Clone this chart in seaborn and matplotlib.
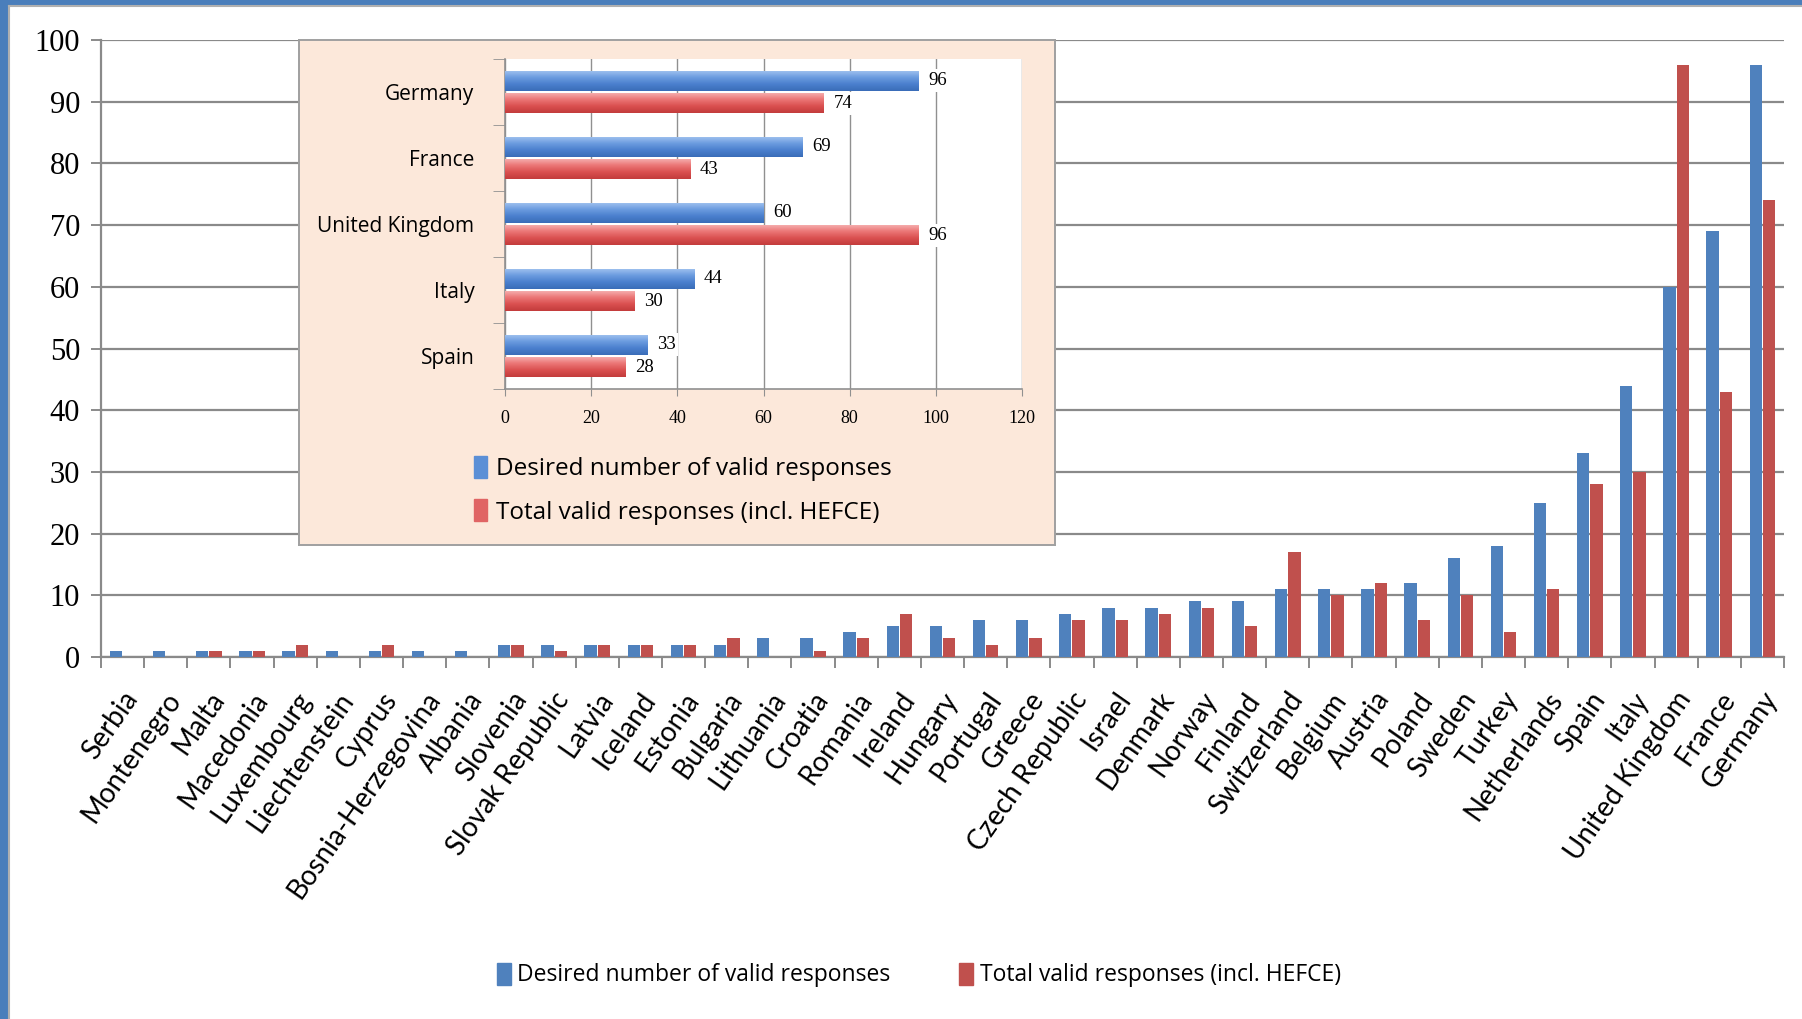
import numpy as np
import pandas as pd
import matplotlib
matplotlib.use("Agg")
import matplotlib.pyplot as plt
import matplotlib.patches as mpatches
import matplotlib.transforms as mtransforms
from matplotlib.colors import LinearSegmentedColormap
import seaborn as sns

# data
countries = ["Serbia", "Montenegro", "Malta", "Macedonia", "Luxembourg", "Liechtenstein",
             "Cyprus", "Bosnia-Herzegovina", "Albania", "Slovenia", "Slovak Republic",
             "Latvia", "Iceland", "Estonia", "Bulgaria", "Lithuania", "Croatia", "Romania",
             "Ireland", "Hungary", "Portugal", "Greece", "Czech Republic", "Israel",
             "Denmark", "Norway", "Finland", "Switzerland", "Belgium", "Austria", "Poland",
             "Sweden", "Turkey", "Netherlands", "Spain", "Italy", "United Kingdom",
             "France", "Germany"]
desired = [1, 1, 1, 1, 1, 1, 1, 1, 1, 2, 2, 2, 2, 2, 2, 3, 3, 4, 5, 5, 6, 6, 7, 8,
           8, 9, 9, 11, 11, 11, 12, 16, 18, 25, 33, 44, 60, 69, 96]
total = [0, 0, 1, 1, 2, 0, 2, 0, 0, 2, 1, 2, 2, 2, 3, 0, 1, 3, 7, 3, 2, 3, 6, 6,
         7, 8, 5, 17, 10, 12, 6, 10, 4, 11, 28, 30, 96, 43, 74]

top5 = ["Germany", "France", "United Kingdom", "Italy", "Spain"]
top5_desired = [96, 69, 60, 44, 33]
top5_total = [74, 43, 96, 30, 28]

series = ["Desired number of valid responses", "Total valid responses (incl. HEFCE)"]

df = pd.DataFrame({
    "Country": countries * 2,
    "Responses": desired + total,
    "Series": [series[0]] * len(countries) + [series[1]] * len(countries),
})
df_top = pd.DataFrame({
    "Country": top5 * 2,
    "Responses": top5_desired + top5_total,
    "Series": [series[0]] * 5 + [series[1]] * 5,
})

blue, red = "#4F81BD", "#C0504D"
grid_c = "#8A8A8A"

fig = plt.figure(figsize=(18.02, 10.19), dpi=100)
fig.patch.set_facecolor("white")

# frame of the slide
fig.patches.append(mpatches.Rectangle((0, 0), 7 / 1802, 1, transform=fig.transFigure,
                                      color="#4A7EBB", zorder=0))
fig.patches.append(mpatches.Rectangle((0, 1 - 4 / 1019), 1, 4 / 1019, transform=fig.transFigure,
                                      color="#4A7EBB", zorder=0))
fig.lines.append(plt.Line2D([9 / 1802, 9 / 1802], [0, 1 - 6 / 1019], transform=fig.transFigure,
                            color="#B0B0B0", lw=1.5))
fig.lines.append(plt.Line2D([9 / 1802, 1], [1 - 6 / 1019, 1 - 6 / 1019], transform=fig.transFigure,
                            color="#B0B0B0", lw=1.5))

# main chart
ax = fig.add_axes([101 / 1802, 1 - 657 / 1019, 1683 / 1802, 617 / 1019])
sns.barplot(data=df, x="Country", y="Responses", hue="Series", order=countries,
            palette=[blue, red], saturation=1, width=0.62, gap=0.08, legend=False,
            ax=ax, zorder=3)
ax.set_xlim(-0.5, len(countries) - 0.5)
ax.set_ylim(0, 100)
ax.set_yticks(range(0, 101, 10))
ax.set_xlabel("")
ax.set_ylabel("")
ax.yaxis.grid(True, color=grid_c, lw=1.6, zorder=0)
ax.set_axisbelow(True)
for s in ["top", "right"]:
    ax.spines[s].set_visible(False)
for s in ["left", "bottom"]:
    ax.spines[s].set_color(grid_c)
    ax.spines[s].set_linewidth(1.6)
ax.tick_params(axis="y", length=7, width=1.4, color=grid_c, pad=8)
for t in ax.get_yticklabels():
    t.set_fontfamily("Liberation Serif")
    t.set_fontsize(22)
ax.set_xticks(range(len(countries)))
ax.set_xticks(np.arange(-0.5, len(countries), 1), minor=True)
ax.tick_params(axis="x", which="major", length=0, pad=27)
ax.tick_params(axis="x", which="minor", length=8, width=1.4, color=grid_c)
ax.set_xticklabels(countries, rotation=55, ha="right", va="center", rotation_mode="anchor",
                   fontsize=20, fontfamily="Lato")
shift = mtransforms.ScaledTranslation(10 / 100, 0, fig.dpi_scale_trans)
for t in ax.get_xticklabels():
    t.set_transform(t.get_transform() + shift)

handles = [mpatches.Patch(color=blue), mpatches.Patch(color=red)]
fig.legend(handles, series, loc="center", bbox_to_anchor=(0.51, 1 - 975 / 1019), ncol=2,
           frameon=False, prop={"family": "Open Sans", "size": 16.5},
           handlelength=0.6, handleheight=1.1, handletextpad=0.3, columnspacing=3.0)

# inset panel
bg = fig.add_axes([299 / 1802, 1 - 545 / 1019, 756 / 1802, 505 / 1019], zorder=2)
bg.set_facecolor("#FCE8DA")
bg.set_xticks([])
bg.set_yticks([])
for s in bg.spines.values():
    s.set_color("#A0A0A0")
    s.set_linewidth(1.4)

ax2 = fig.add_axes([505 / 1802, 1 - 389 / 1019, 517 / 1802, 330 / 1019], zorder=3)
sns.barplot(data=df_top, y="Country", x="Responses", hue="Series", order=top5,
            palette=[blue, red], saturation=1, width=0.68, gap=0.1, legend=False,
            ax=ax2, orient="h")
ax2.set_xlim(0, 120)
ax2.set_ylim(len(top5) - 0.5, -0.5)
ax2.set_xticks(range(0, 121, 20))
ax2.set_xlabel("")
ax2.set_ylabel("")
ax2.set_facecolor("white")
ax2.xaxis.grid(True, color="#909090", lw=1.0)
ax2.set_axisbelow(True)
for s in ["top", "right"]:
    ax2.spines[s].set_visible(False)
for s in ["left", "bottom"]:
    ax2.spines[s].set_color("#909090")
    ax2.spines[s].set_linewidth(1.2)
ax2.tick_params(axis="x", length=5, color="#909090", pad=10)
for t in ax2.get_xticklabels():
    t.set_fontfamily("Liberation Serif")
    t.set_fontsize(13)
ax2.set_yticks(np.arange(-0.5, len(top5), 1), minor=True)
ax2.tick_params(axis="y", which="major", length=0, pad=22)
ax2.tick_params(axis="y", which="minor", length=9, color="#909090")
ax2.set_yticklabels(top5, fontsize=15, fontfamily="Open Sans")

# glossy gradient on inset bars (first five patches are the blue series)
cmaps = [
    LinearSegmentedColormap.from_list("b", ["#A3C4F0", "#6D9DE0", "#4B80CE", "#3A6DB8"]),
    LinearSegmentedColormap.from_list("r", ["#F6B4B4", "#EC7878", "#DA5050", "#C33C3C"]),
]
grad = np.linspace(0, 1, 64).reshape(-1, 1)
for i, p in enumerate(list(ax2.patches)):
    cmap = cmaps[0] if i < len(top5) else cmaps[1]
    x0, y0, w, h = p.get_x(), p.get_y(), p.get_width(), p.get_height()
    im = ax2.imshow(grad, cmap=cmap, extent=(x0, x0 + w, y0 + h, y0), origin="upper",
                    aspect="auto", zorder=3)
    im.set_clip_path(p)
    p.set_facecolor("none")
    p.set_edgecolor("none")
    lbl = ax2.text(x0 + w + 2.2, y0 + h / 2, f"{w:.0f}", va="center", ha="left",
                   fontsize=13.5, fontfamily="Liberation Serif", zorder=4)
    lbl.set_bbox(dict(facecolor="white", edgecolor="none", pad=2))
ax2.set_xlim(0, 120)
ax2.set_ylim(len(top5) - 0.5, -0.5)

ih = [mpatches.Patch(color="#5B8FD6"), mpatches.Patch(color="#E06464")]
bg.legend(ih, series, loc="upper left", bbox_to_anchor=(452 / 1802, 1 - 434 / 1019),
          bbox_transform=fig.transFigure, frameon=False,
          prop={"family": "Open Sans", "size": 17.5},
          handlelength=0.55, handleheight=1.0, handletextpad=0.35, labelspacing=0.75)

fig.savefig("out.png", dpi=100)
